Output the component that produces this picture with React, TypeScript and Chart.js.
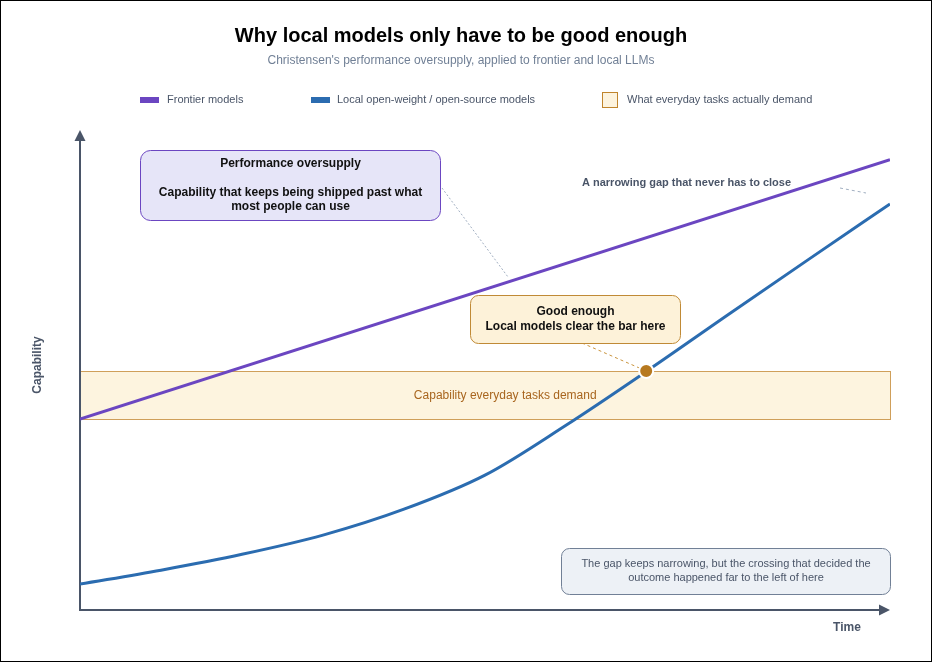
import React, { useEffect, useRef } from "react";
import { Chart, registerables } from "chart.js";

Chart.register(...registerables);

const FONT = '"Liberation Sans", Arial, Helvetica, sans-serif';

// ---- text ----
const chartTitle = "Why local models only have to be good enough";
const chartSubtitle = "Christensen's performance oversupply, applied to frontier and local LLMs";
const legendLabels = [
  "Frontier models",
  "Local open-weight / open-source models",
  "What everyday tasks actually demand",
];
const xAxisLabel = "Time";
const yAxisLabel = "Capability";
const bandLabel = "Capability everyday tasks demand";
const oversupplyLines = [
  "Performance oversupply",
  "",
  "Capability that keeps being shipped past what",
  "most people can use",
];
const goodEnoughLines = ["Good enough", "Local models clear the bar here"];
const gapLabel = "A narrowing gap that never has to close";
const noteLines = [
  "The gap keeps narrowing, but the crossing that decided the",
  "outcome happened far to the left of here",
];

// ---- data (time 0..100, capability 0..100) ----
const frontierTime = [0, 100];
const frontierCapability = [39.8, 93.8];
const localTime = [0, 10, 20, 30, 40, 50, 60, 70, 80, 90, 100];
const localCapability = [5.4, 8.3, 11.6, 15.6, 21.0, 28.1, 38.5, 49.8, 61.5, 73.1, 84.6];
const demandRange = [39.8, 49.8];
const crossingTime = [69.9];
const crossingCapability = [49.8];

const COLORS = {
  frontier: "#6b46c1",
  local: "#2b6cb0",
  axis: "#4a5568",
  bandFill: "#fdf4df",
  bandBorder: "#cf9f5a",
  bandText: "#a8651e",
  dot: "#b7791f",
};

function roundRect(ctx: CanvasRenderingContext2D, x: number, y: number, w: number, h: number, r: number) {
  ctx.beginPath();
  ctx.moveTo(x + r, y);
  ctx.lineTo(x + w - r, y);
  ctx.arcTo(x + w, y, x + w, y + r, r);
  ctx.lineTo(x + w, y + h - r);
  ctx.arcTo(x + w, y + h, x + w - r, y + h, r);
  ctx.lineTo(x + r, y + h);
  ctx.arcTo(x, y + h, x, y + h - r, r);
  ctx.lineTo(x, y + r);
  ctx.arcTo(x, y, x + r, y, r);
  ctx.closePath();
}

const decorPlugin = {
  id: "decor",
  beforeDatasetsDraw(chart: any) {
    const { ctx, chartArea, scales } = chart;
    const xs = scales.x;
    const ys = scales.y;
    ctx.save();
    // demand band
    const bx0 = xs.getPixelForValue(0);
    const bx1 = xs.getPixelForValue(100);
    const byTop = Math.round(ys.getPixelForValue(demandRange[1]));
    const byBot = Math.round(ys.getPixelForValue(demandRange[0]));
    ctx.fillStyle = COLORS.bandFill;
    ctx.fillRect(bx0, byTop, bx1 - bx0, byBot - byTop);
    ctx.strokeStyle = COLORS.bandBorder;
    ctx.lineWidth = 1;
    ctx.strokeRect(bx0 + 0.5, byTop + 0.5, bx1 - bx0, byBot - byTop);
    ctx.fillStyle = COLORS.bandText;
    ctx.font = `12px ${FONT}`;
    ctx.textAlign = "center";
    ctx.textBaseline = "middle";
    ctx.fillText(bandLabel, xs.getPixelForValue(52.5), (byTop + byBot) / 2 + 1);

    // axes
    const L = chartArea.left;
    const B = chartArea.bottom;
    const T = chartArea.top;
    const R = chartArea.right;
    ctx.strokeStyle = COLORS.axis;
    ctx.fillStyle = COLORS.axis;
    ctx.lineWidth = 2;
    ctx.beginPath();
    ctx.moveTo(L, B);
    ctx.lineTo(L, T + 10);
    ctx.moveTo(L - 1, B);
    ctx.lineTo(R - 10, B);
    ctx.stroke();
    ctx.beginPath();
    ctx.moveTo(L, T);
    ctx.lineTo(L - 5.5, T + 11);
    ctx.lineTo(L + 5.5, T + 11);
    ctx.closePath();
    ctx.fill();
    ctx.beginPath();
    ctx.moveTo(R, B);
    ctx.lineTo(R - 11, B - 5.5);
    ctx.lineTo(R - 11, B + 5.5);
    ctx.closePath();
    ctx.fill();

    // connectors
    ctx.lineWidth = 1;
    ctx.strokeStyle = "#a0aec0";
    ctx.setLineDash([2, 2]);
    ctx.beginPath();
    ctx.moveTo(442, 188);
    ctx.lineTo(508, 277);
    ctx.stroke();
    ctx.setLineDash([3, 3]);
    ctx.beginPath();
    ctx.moveTo(840, 188);
    ctx.lineTo(866, 193);
    ctx.stroke();
    ctx.strokeStyle = "#c9943e";
    ctx.beginPath();
    ctx.moveTo(582, 343);
    ctx.lineTo(xs.getPixelForValue(crossingTime[0]), ys.getPixelForValue(crossingCapability[0]));
    ctx.stroke();
    ctx.setLineDash([]);
    ctx.restore();
  },
  afterDatasetsDraw(chart: any) {
    const { ctx, width, height } = chart;
    ctx.save();
    ctx.textAlign = "center";
    ctx.textBaseline = "middle";

    // oversupply box
    roundRect(ctx, 140.5, 150.5, 300, 70, 10);
    ctx.fillStyle = "#e6e5f8";
    ctx.fill();
    ctx.strokeStyle = COLORS.frontier;
    ctx.lineWidth = 1;
    ctx.stroke();
    ctx.fillStyle = "#111111";
    ctx.font = `bold 12px ${FONT}`;
    const oy = [164, 178, 193, 207];
    oversupplyLines.forEach((t, i) => ctx.fillText(t, 290.5, oy[i]));

    // good enough box
    roundRect(ctx, 470.5, 295.5, 210, 48, 8);
    ctx.fillStyle = "#fdf2d9";
    ctx.fill();
    ctx.strokeStyle = "#c08a36";
    ctx.stroke();
    ctx.fillStyle = "#111111";
    ctx.font = `bold 12px ${FONT}`;
    ctx.fillText(goodEnoughLines[0], 575.5, 312);
    ctx.fillText(goodEnoughLines[1], 575.5, 327);

    // gap label
    ctx.fillStyle = COLORS.axis;
    ctx.font = `bold 11px ${FONT}`;
    ctx.textAlign = "left";
    ctx.fillText(gapLabel, 582, 183);

    // note box
    ctx.textAlign = "center";
    roundRect(ctx, 561.5, 548.5, 329, 46, 8);
    ctx.fillStyle = "#edf1f6";
    ctx.fill();
    ctx.strokeStyle = "#718096";
    ctx.stroke();
    ctx.fillStyle = COLORS.axis;
    ctx.font = `11px ${FONT}`;
    ctx.fillText(noteLines[0], 726, 564);
    ctx.fillText(noteLines[1], 726, 578);

    // axis labels
    ctx.font = `bold 12px ${FONT}`;
    ctx.fillStyle = COLORS.axis;
    ctx.fillText(xAxisLabel, 847, 628);
    ctx.save();
    ctx.translate(38, 365);
    ctx.rotate(-Math.PI / 2);
    ctx.fillText(yAxisLabel, 0, 0);
    ctx.restore();

    // title & subtitle
    ctx.fillStyle = "#000000";
    ctx.font = `bold 20px ${FONT}`;
    ctx.fillText(chartTitle, 461, 36);
    ctx.fillStyle = "#718096";
    ctx.font = `12px ${FONT}`;
    ctx.fillText(chartSubtitle, 461, 61);

    // legend
    ctx.textAlign = "left";
    ctx.font = `11px ${FONT}`;
    ctx.fillStyle = COLORS.frontier;
    ctx.fillRect(140, 97, 19, 6);
    ctx.fillStyle = COLORS.local;
    ctx.fillRect(311, 97, 19, 6);
    ctx.fillStyle = COLORS.bandFill;
    ctx.fillRect(602, 92, 16, 16);
    ctx.strokeStyle = "#c0852d";
    ctx.strokeRect(602.5, 92.5, 15, 15);
    ctx.fillStyle = COLORS.axis;
    ctx.fillText(legendLabels[0], 167, 100);
    ctx.fillText(legendLabels[1], 337, 100);
    ctx.fillText(legendLabels[2], 627, 100);

    // frame
    ctx.strokeStyle = "#000000";
    ctx.lineWidth = 1;
    ctx.strokeRect(0.5, 0.5, width - 1, height - 1);
    ctx.restore();
  },
};

export default function App() {
  const canvasRef = useRef<HTMLCanvasElement | null>(null);

  useEffect(() => {
    const canvas = canvasRef.current;
    if (!canvas) return;
    const chart = new Chart(canvas, {
      type: "line",
      data: {
        datasets: [
          {
            label: legendLabels[1],
            data: localTime.map((t, i) => ({ x: t, y: localCapability[i] })),
            borderColor: COLORS.local,
            borderWidth: 3,
            pointRadius: 0,
            cubicInterpolationMode: "monotone",
            fill: false,
            order: 2,
          },
          {
            label: legendLabels[0],
            data: frontierTime.map((t, i) => ({ x: t, y: frontierCapability[i] })),
            borderColor: COLORS.frontier,
            borderWidth: 3,
            pointRadius: 0,
            fill: false,
            order: 1,
          },
          {
            label: "crossing",
            data: crossingTime.map((t, i) => ({ x: t, y: crossingCapability[i] })),
            showLine: false,
            pointRadius: 7,
            pointBackgroundColor: COLORS.dot,
            pointBorderColor: "#ffffff",
            pointBorderWidth: 2,
            order: 0,
          },
        ],
      },
      options: {
        responsive: false,
        animation: false,
        devicePixelRatio: 1,
        layout: { padding: { left: 80, right: 42, top: 130, bottom: 52 } },
        scales: {
          x: { type: "linear", min: 0, max: 100, display: false },
          y: { type: "linear", min: 0, max: 100, display: false },
        },
        plugins: {
          legend: { display: false },
          title: { display: false },
          tooltip: { enabled: false },
        },
        events: [],
      },
      plugins: [decorPlugin],
    } as any);
    return () => chart.destroy();
  }, []);

  return (
    <div style={{ position: "absolute", left: 0, top: 0, width: 932, height: 662, background: "#ffffff" }}>
      <canvas ref={canvasRef} width={932} height={662} style={{ display: "block" }} />
    </div>
  );
}
